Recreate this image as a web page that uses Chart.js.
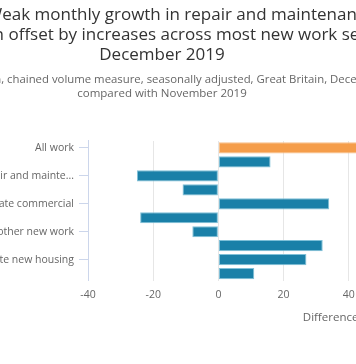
<!DOCTYPE html>
<html><head><meta charset="utf-8">
<script src="https://cdn.jsdelivr.net/npm/chart.js@4"></script>
<style>
html,body{margin:0;padding:0;overflow:hidden;background:#fff;width:356px;height:364px;}
#wrap{position:absolute;left:-90px;top:0;width:524px;height:364px;}
</style></head><body>
<div id="wrap"><canvas id="c" width="524" height="364"></canvas></div>
<script>
const categories = [
  "All work",
  "Non-housing repair and maintenance",
  "Private housing repair and maintenance",
  "Public housing repair and maintenance",
  "Private commercial",
  "Private industrial",
  "Public other new work",
  "Infrastructure",
  "Private new housing",
  "Public new housing"
];
const differences = [52, 16, -25, -11, 34, -24, -8, 32, 27, 11];
const xTickValues = [-40, -20, 0, 20, 40, 60];
const titleLines = [
  "Figure 3: Weak monthly growth in repair and maintenance was",
  "more than offset by increases across most new work sectors,",
  "December 2019"
];
const subtitleLines = [
  "Change, £ million, chained volume measure, seasonally adjusted, Great Britain, December 2019",
  "compared with November 2019"
];
const xAxisTitle = "Difference (£ million)";

const FONT = '"Open Sans", "DejaVu Sans", sans-serif';
const ORANGE = '#f59d4a';
const BLUE = '#1a80a8';

new Chart(document.getElementById('c'), {
  type: 'bar',
  data: {
    labels: categories,
    datasets: [{
      data: differences,
      backgroundColor: differences.map((v, i) => i === 0 ? ORANGE : BLUE),
      borderColor: differences.map((v, i) => i === 0 ? '#f8c08a' : '#7fc0d8'),
      borderWidth: 1,
      borderSkipped: false,
      barPercentage: 0.8,
      categoryPercentage: 1.0
    }]
  },
  options: {
    indexAxis: 'y',
    responsive: false,
    animation: false,
    layout: { padding: { left: 0, right: 20, top: 0, bottom: 33 } },
    plugins: {
      legend: { display: false },
      tooltip: { enabled: false },
      title: {
        display: true,
        text: titleLines,
        color: '#333333',
        font: { family: FONT, size: 17, weight: 'normal', lineHeight: 1.18 },
        padding: { top: 5, bottom: 0 }
      },
      subtitle: {
        display: true,
        text: subtitleLines,
        color: '#666666',
        font: { family: FONT, size: 11.5, weight: 'normal', lineHeight: 1.217 },
        padding: { top: 8, bottom: 39.8 }
      }
    },
    scales: {
      x: {
        type: 'linear',
        min: xTickValues[0],
        max: xTickValues[xTickValues.length - 1],
        afterBuildTicks: (scale) => { scale.ticks = xTickValues.map(v => ({ value: v })); },
        grid: { color: '#e6e6e6', drawTicks: false, lineWidth: 1 },
        border: { display: false },
        ticks: { color: '#666666', font: { family: FONT, size: 10.5 }, padding: 8 },
        title: {
          display: true,
          text: xAxisTitle,
          align: 'end',
          color: '#666666',
          font: { family: FONT, size: 11.5 },
          padding: { top: 2, bottom: 6 }
        }
      },
      y: {
        type: 'category',
        offset: true,
        afterFit: (scale) => { scale.width = 178; },
        grid: {
          offset: false,
          drawOnChartArea: false,
          drawTicks: true,
          tickLength: 9,
          color: (ctx) => (ctx.index % 2 === 0 ? '#ccd6eb' : 'rgba(0,0,0,0)')
        },
        border: { display: true, color: '#ccd6eb', width: 1 },
        ticks: {
          autoSkip: false,
          padding: 5,
          color: '#666666',
          font: { family: FONT, size: 10.5 },
          callback: function (value, index) {
            if (index % 2 !== 0) return '';
            const label = this.getLabelForValue(value);
            return label.length > 33 ? label.slice(0, 33) + '...' : label;
          }
        }
      }
    }
  }
});
</script>
</body></html>
